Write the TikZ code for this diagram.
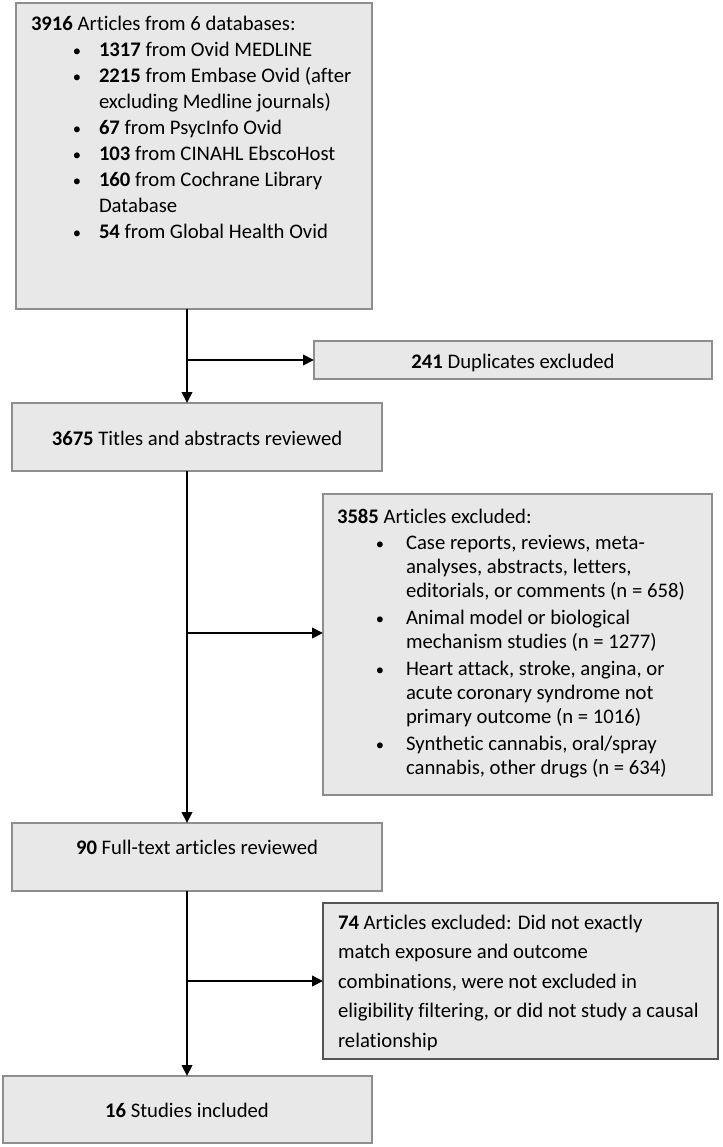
\documentclass[tikz,border=0pt]{standalone}
\usepackage{fontspec}
\setmainfont{Carlito}[Ligatures=NoCommon]
\usetikzlibrary{arrows.meta}
\definecolor{boxfill}{HTML}{E8E8E8}
\definecolor{boxline}{HTML}{8E8E8E}
\definecolor{boxdark}{HTML}{555555}
\newcommand{\bulat}[2]{\hspace*{#1pt}\makebox[0pt]{\scalebox{0.8}{\textbullet}}\hspace*{#2pt}}
\begin{document}
\begin{tikzpicture}[x=1pt,y=-1pt,
  box/.style={draw=boxline,fill=boxfill,line width=1.3pt,rectangle,inner sep=0pt,outer sep=0pt},
  txt/.style={inner sep=0pt,outer sep=0pt,font=\fontsize{20.7}{26}\selectfont},
  arr/.style={line width=2pt,-{Triangle[length=11pt,width=10.5pt]}}]
\useasboundingbox (0,0) rectangle (722,1147);
% boxes
\node[box,minimum width=356pt,minimum height=306pt] (b1) at (194,156) {};
\node[box,minimum width=398pt,minimum height=38pt] (b241) at (513,360) {};
\node[box,minimum width=370pt,minimum height=68pt] (b2) at (197,437) {};
\node[box,minimum width=389pt,minimum height=301pt] (b3) at (517.5,644.5) {};
\node[box,minimum width=370pt,minimum height=68pt] (b4) at (197,857) {};
\node[box,draw=boxdark,minimum width=395pt,minimum height=156pt] (b74) at (520.5,981) {};
\node[box,minimum width=369pt,minimum height=67pt] (b5) at (187.5,1109.5) {};
% texts
\node[txt,anchor=base west] (t1) at (31,31) {\begin{tabular}[t]{@{}l@{}}
\textbf{3916} Articles from 6 databases:\\
\bulat{46}{22}\textbf{1317} from Ovid MEDLINE\\
\bulat{46}{22}\textbf{2215} from Embase Ovid (after\\
\hspace*{68pt}excluding Medline journals)\\
\bulat{46}{22}\textbf{67} from PsycInfo Ovid\\
\bulat{46}{22}\textbf{103} from CINAHL EbscoHost\\
\bulat{46}{22}\textbf{160} from Cochrane Library\\
\hspace*{68pt}Database\\
\bulat{46}{22}\textbf{54} from Global Health Ovid
\end{tabular}};
\node[txt,anchor=base] (t241) at (513,368) {\textbf{241} Duplicates excluded};
\node[txt,anchor=base] (t2) at (197,445) {\textbf{3675} Titles and abstracts reviewed};
\node[txt,anchor=base west,font=\fontsize{20.7}{24}\selectfont] (t3) at (337,523) {\begin{tabular}[t]{@{}l@{}}
\textbf{3585} Articles excluded:\\[2pt]
\bulat{43}{26}Case reports, reviews, meta-\\
\hspace*{69pt}analyses, abstracts, letters,\\
\hspace*{69pt}editorials, or comments (n = 658)\\[3pt]
\bulat{43}{26}Animal model or biological\\
\hspace*{69pt}mechanism studies (n = 1277)\\[3pt]
\bulat{43}{26}Heart attack, stroke, angina, or\\
\hspace*{69pt}acute coronary syndrome not\\
\hspace*{69pt}primary outcome (n = 1016)\\[3pt]
\bulat{43}{26}Synthetic cannabis, oral/spray\\
\hspace*{69pt}cannabis, other drugs (n = 634)
\end{tabular}};
\node[txt,anchor=base] (t4) at (197,854) {\textbf{90} Full-text articles reviewed};
\node[txt,anchor=base west,font=\fontsize{20.7}{29.5}\selectfont] (t74) at (338,929) {\begin{tabular}[t]{@{}l@{}}
\textbf{74} Articles excluded: Did not exactly\\
match exposure and outcome\\
combinations, were not excluded in\\
eligibility filtering, or did not study a causal\\
relationship
\end{tabular}};
\node[txt,anchor=base] (t5) at (187,1117) {\textbf{16} Studies included};
% connectors
\coordinate (sp) at (187,0);
\coordinate (j2) at (187,633);
\draw[arr] (b1.south -| sp) -- (b2.north -| sp);
\draw[arr] (sp |- b241.west) -- (b241.west);
\draw[arr] (b2.south -| sp) -- (b4.north -| sp);
\draw[arr] (j2) -- (j2 -| b3.west);
\draw[arr] (b4.south -| sp) -- (b5.north -| sp);
\draw[arr] (sp |- b74.west) -- (b74.west);
\end{tikzpicture}
\end{document}
